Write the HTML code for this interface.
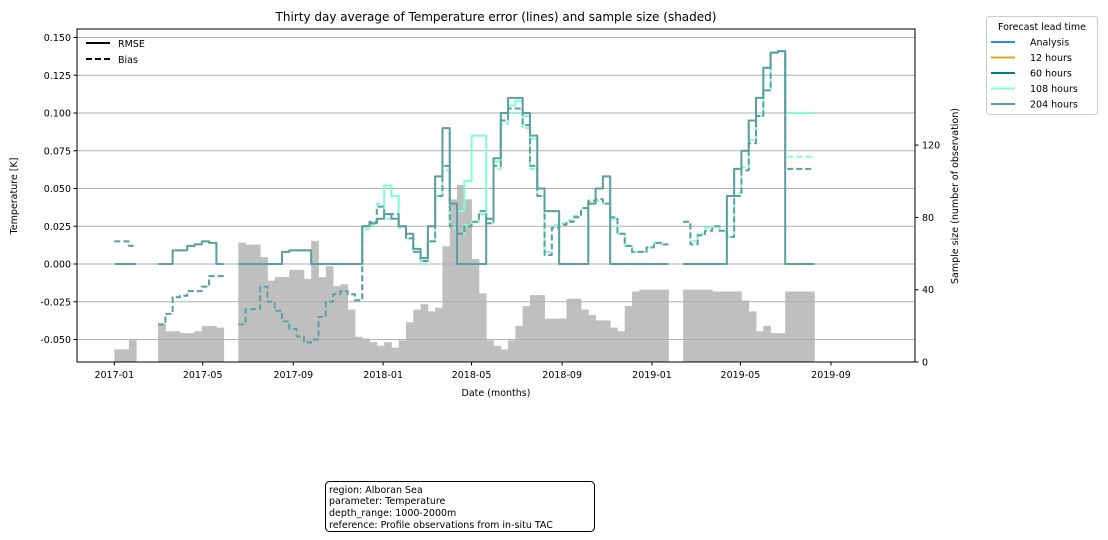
<!DOCTYPE html>
<html><head><meta charset="utf-8"><style>
body{margin:0;background:#fff;}
svg{display:block;font-family:"DejaVu Sans","Liberation Sans",sans-serif;}
</style></head><body>
<svg id="chart" width="1108" height="540" viewBox="0 0 1108 540">
<text x="496" y="21" font-size="12" text-anchor="middle">Thirty day average of Temperature error (lines) and sample size (shaded)</text>
<g id="bars"></g>
<g id="grid"></g>
<g id="lines"></g>
<rect x="77" y="29" width="838" height="333" fill="none" stroke="#000" stroke-width="1"/>
<g id="yticks"></g>
<g id="rticks"></g>
<g id="xticks"></g>
<text x="496" y="396" font-size="9.5" text-anchor="middle">Date (months)</text>
<text transform="translate(17,196) rotate(-90)" font-size="9.5" text-anchor="middle">Temperature [K]</text>
<text transform="translate(958,196) rotate(-90)" font-size="9.5" text-anchor="middle">Sample size (number of observation)</text>
<g>
<line x1="86" y1="43" x2="110" y2="43" stroke="#000" stroke-width="2"/>
<text x="118" y="47" font-size="9.5">RMSE</text>
<line x1="86" y1="59" x2="110" y2="59" stroke="#000" stroke-width="2" stroke-dasharray="6,3"/>
<text x="118" y="63" font-size="9.5">Bias</text>
</g>
<g>
<rect x="986.5" y="16.5" width="111" height="98" rx="3" fill="#fff" stroke="#ccc"/>
<text x="1042" y="30" font-size="9.5" text-anchor="middle">Forecast lead time</text>
<g id="leg"></g>
</g>
<g>
<rect x="325.5" y="481.5" width="269" height="50" rx="4" fill="#fff" stroke="#000"/>
<text x="329" y="493" font-size="9.5">region: Alboran Sea</text>
<text x="329" y="504" font-size="9.5">parameter: Temperature</text>
<text x="329" y="516" font-size="9.5">depth_range: 1000-2000m</text>
<text x="329" y="528" font-size="9.5">reference: Profile observations from in-situ TAC</text>
</g>
</svg>
<script>
const startDate = "2017-01-01";
const stepDays = 9.9;
const samples = [7,7,12,null,null,null,21,17,17,16,16,17,20,20,19,null,null,66,65,65,58,45,47,47,51,51,46,67,47,53,42,43,29,14,13,11,9,11,8,12,22,29,32,28,30,64,90,98,90,57,38,12,9,7,12,20,31,37,37,24,24,24,35,35,29,26,23,23,19,17,31,39,40,40,40,40,null,null,40,40,40,40,39,39,39,39,34,28,17,20,16,16,39,39,39,39,null];
const rmse204 = [0,0,0,null,null,null,0,0,0.009,0.009,0.012,0.013,0.015,0.014,0,null,null,0,0,0,0,0,0,0.008,0.009,0.009,0.009,0,0,0,0,0,0,0,0.025,0.027,0.030,0.033,0.030,0.025,0.020,0.010,0.004,0.025,0.058,0.090,0.040,0,0,0,0,0.030,0.070,0.100,0.110,0.110,0.100,0.085,0.050,0.035,0.035,0,0,0,0,0.040,0.050,0.058,0,0,0,0,0,0,0,0,null,null,0,0,0,0,0,0,0.045,0.063,0.075,0.095,0.110,0.130,0.140,0.141,0,0,0,0,null];
const bias204 = [0.015,0.015,0.012,null,null,null,-0.040,-0.033,-0.022,-0.021,-0.018,-0.018,-0.015,-0.008,-0.008,null,null,-0.040,-0.030,-0.030,-0.015,-0.025,-0.031,-0.038,-0.043,-0.048,-0.052,-0.050,-0.035,-0.025,-0.020,-0.018,-0.020,-0.024,0.025,0.028,0.038,0.033,0.033,0.025,0.017,0.008,0.002,0.015,0.045,0.065,0.025,0.020,0.025,0.028,0.035,0.027,0.065,0.095,0.103,0.103,0.092,0.065,0.045,0.006,0.024,0.026,0.028,0.031,0.037,0.042,0.043,0.040,0.031,0.020,0.012,0.008,0.008,0.011,0.014,0.013,null,null,0.028,0.013,0.019,0.022,0.025,0.022,0.018,0.045,0.062,0.080,0.098,0.115,0.140,0.141,0.063,0.063,0.063,0.063,null];
const rmse108 = [0,0,0,null,null,null,0,0,0.009,0.009,0.012,0.013,0.015,0.014,0,null,null,0,0,0,0,0,0,0.008,0.009,0.009,0.009,0,0,0,0,0,0,0,0.025,0.027,0.030,0.052,0.045,0.025,0.020,0.010,0.002,0.025,0.058,0.090,0.040,0.035,0.055,0.085,0.085,0.030,0.068,0.100,0.105,0.108,0.098,0.083,0.050,0.035,0.035,0,0,0,0,0.040,0.050,0.058,0,0,0,0,0,0,0,0,null,null,0,0,0,0,0,0,0.045,0.063,0.075,0.095,0.110,0.130,0.140,0.141,0.100,0.100,0.100,0.100,null];
const bias108 = [0.015,0.015,0.012,null,null,null,-0.040,-0.033,-0.022,-0.021,-0.018,-0.018,-0.015,-0.008,-0.008,null,null,-0.040,-0.030,-0.030,-0.015,-0.025,-0.031,-0.038,-0.043,-0.048,-0.052,-0.050,-0.035,-0.025,-0.020,-0.018,-0.020,-0.024,0.023,0.026,0.040,0.030,0.030,0.024,0.017,0.008,0.000,0.015,0.045,0.062,0.024,0.020,0.026,0.028,0.033,0.027,0.063,0.093,0.100,0.100,0.090,0.063,0.045,0.008,0.026,0.027,0.029,0.032,0.037,0.041,0.042,0.040,0.030,0.020,0.012,0.008,0.008,0.011,0.014,0.013,null,null,0.028,0.015,0.020,0.024,0.025,0.022,0.018,0.047,0.064,0.082,0.098,0.115,0.140,0.141,0.071,0.071,0.071,0.071,null];
const leftTicks = [0.150,0.125,0.100,0.075,0.050,0.025,0.000,-0.025,-0.050];
const rightTicks = [0,40,80,120];
const xTickLabels = ["2017-01","2017-05","2017-09","2018-01","2018-05","2018-09","2019-01","2019-05","2019-09"];
const xTickDays = [0,120,243,365,485,608,730,850,973];
const leadNames = ["Analysis","12 hours","60 hours","108 hours","204 hours"];
const leadColors = ["#1e90ff","#daa520","#008080","#7fffd4","#5f9ea0"];

const NS="http://www.w3.org/2000/svg";
function xs(day){return 114.3+day*0.7366;}
function yl(v){return 264-v*1510;}
function yr(n){return 362-n*1.8075;}
function mk(tag,attrs,parent){const e=document.createElementNS(NS,tag);for(const k in attrs)e.setAttribute(k,attrs[k]);parent.appendChild(e);return e;}
const gBars=document.getElementById('bars'),gGrid=document.getElementById('grid'),gLines=document.getElementById('lines');
// bars
samples.forEach((n,i)=>{if(n===null)return;
 const x0=xs(i*stepDays),x1=xs((i+1)*stepDays);
 const r=mk('rect',{x:x0,y:yr(n),width:x1-x0+0.4,height:362-yr(n),fill:'#bfbfbf'},gBars);
 
 
});
// grid + left ticks
const gy=document.getElementById('yticks');
leftTicks.forEach(v=>{const y=yl(v);
 const l=mk('line',{x1:77,x2:915,y1:y,y2:y,stroke:'#b0b0b0','stroke-width':1},gGrid);
 
 
 mk('line',{x1:73.5,x2:77,y1:y,y2:y,stroke:'#000'},gy);
 const t=mk('text',{x:71,y:y+3.5,'font-size':9.5,'text-anchor':'end'},gy);
 t.textContent=v.toFixed(3);
 
 
});
const gr=document.getElementById('rticks');
rightTicks.forEach(n=>{const y=yr(n);
 mk('line',{x1:915,x2:918.5,y1:y,y2:y,stroke:'#000'},gr);
 const t=mk('text',{x:922,y:y+3.5,'font-size':9.5},gr);
 t.textContent=n;
 
 
});
const gx=document.getElementById('xticks');
xTickDays.forEach((d,i)=>{const x=xs(d);
 mk('line',{x1:x,x2:x,y1:362,y2:365.5,stroke:'#000'},gx);
 const t=mk('text',{x:x,y:378,'font-size':9.5,'text-anchor':'middle'},gx);
 t.textContent=xTickLabels[i];
 
 
});
// step lines
function stepPath(arr){let d='',pen=false;
 arr.forEach((v,i)=>{if(v===null){pen=false;return;}
  const x0=xs(i*stepDays),x1=xs((i+1)*stepDays),y=yl(v);
  if(!pen){d+='M'+x0+' '+y;pen=true;}else d+='L'+x0+' '+y;
  d+='L'+x1+' '+y;
 });return d;}
function drawLine(arr,color,dash,name){
 const p=mk('path',{d:stepPath(arr),fill:'none',stroke:color,'stroke-width':2,'stroke-linejoin':'round'},gLines);
 if(dash)p.setAttribute('stroke-dasharray','6,3');
 
 
}
drawLine(rmse108,'#7fffd4',false,'rmse-108-hours');
drawLine(bias108,'#7fffd4',true,'bias-108-hours');
drawLine(rmse204,'#5f9ea0',false,'rmse-204-hours');
drawLine(bias204,'#5f9ea0',true,'bias-204-hours');
// legend
const leg=document.getElementById('leg');
leadNames.forEach((nm,i)=>{const y=42+i*15.5;
 mk('line',{x1:991,x2:1015,y1:y,y2:y,stroke:leadColors[i],'stroke-width':2},leg);
 const t=mk('text',{x:1030,y:y+3.5,'font-size':9.5},leg);
 t.textContent=nm;
 
 
});
</script>
</body></html>
